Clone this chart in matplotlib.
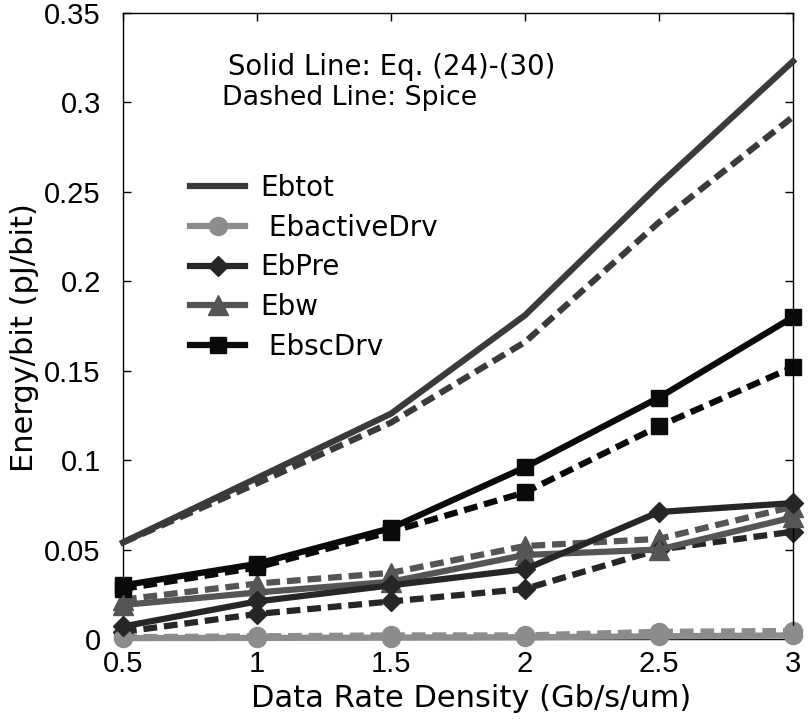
import matplotlib
matplotlib.use("Agg")
import matplotlib.pyplot as plt
from matplotlib.lines import Line2D

plt.rcParams['font.family'] = ['Liberation Sans', 'DejaVu Sans']
WIDE = ['DejaVu Sans']

rate = [0.5, 1.0, 1.5, 2.0, 2.5, 3.0]

# Model (Eq. 24-30) results
ebtot_eq = [0.054, 0.090, 0.126, 0.181, 0.254, 0.323]
ebactive_eq = [0.0005, 0.0006, 0.0008, 0.0010, 0.0015, 0.0020]
ebpre_eq = [0.007, 0.021, 0.030, 0.039, 0.071, 0.076]
ebw_eq = [0.019, 0.026, 0.032, 0.047, 0.050, 0.068]
ebsc_eq = [0.030, 0.042, 0.062, 0.096, 0.135, 0.180]

# Spice simulation results
ebtot_sp = [0.054, 0.087, 0.121, 0.166, 0.233, 0.292]
ebactive_sp = [0.0010, 0.0015, 0.0020, 0.0020, 0.0040, 0.0045]
ebpre_sp = [0.004, 0.014, 0.021, 0.028, 0.050, 0.060]
ebw_sp = [0.022, 0.031, 0.037, 0.052, 0.056, 0.074]
ebsc_sp = [0.028, 0.040, 0.060, 0.082, 0.119, 0.152]

labels = ["Ebtot", " EbactiveDrv", "EbPre", "Ebw", " EbscDrv"]
colors = ["#3a3a3a", "#8c8c8c", "#262626", "#555555", "#0a0a0a"]
markers = [None, "o", "D", "^", "s"]
msizes = [0, 13, 10, 15, 11]

eq_series = [ebtot_eq, ebactive_eq, ebpre_eq, ebw_eq, ebsc_eq]
sp_series = [ebtot_sp, ebactive_sp, ebpre_sp, ebw_sp, ebsc_sp]

W, H = 809, 719
fig = plt.figure(figsize=(W / 100, H / 100), dpi=100)
ax = fig.add_axes([123 / W, 1 - 639 / H, (793 - 123) / W, (639 - 13) / H])

LW = 4.5
draw_order = [1, 3, 2, 4, 0]
for i in draw_order:
    kw = dict(color=colors[i], lw=LW, marker=markers[i], ms=msizes[i],
              mfc=colors[i], mec=colors[i], clip_on=False)
    ax.plot(rate, sp_series[i], dashes=(2.2, 1.1), zorder=2, **kw)
    ax.plot(rate, eq_series[i], ls='-', zorder=3, **kw)

ax.set_xlim(0.5, 3)
ax.set_ylim(0, 0.35)
xt = [0.5, 1, 1.5, 2, 2.5, 3]
yt = [0, 0.05, 0.1, 0.15, 0.2, 0.25, 0.3, 0.35]
ax.set_xticks(xt)
ax.set_xticklabels(["0.5", "1", "1.5", "2", "2.5", "3"])
ax.set_yticks(yt)
ax.set_yticklabels(["0", "0.05", "0.1", "0.15", "0.2", "0.25", "0.3", "0.35"])
ax.tick_params(direction='in', length=6, width=1, top=True, right=True,
               labelsize=21)
ax.tick_params(axis='y', pad=16)
ax.tick_params(axis='x', pad=8)
for s in ax.spines.values():
    s.set_linewidth(1)

ax.set_xlabel("Data Rate Density (Gb/s/um)", fontsize=22, family=WIDE)
ax.set_ylabel("Energy/bit (pJ/bit)", fontsize=22, family=WIDE)
ax.xaxis.set_label_coords(0.52, -0.072)
ax.yaxis.set_label_coords(-0.125, 0.482)

fig.text(228 / W, 1 - 75 / H, "Solid Line: Eq. (24)-(30)", fontsize=19.8,
         va='baseline', ha='left', family=WIDE)
fig.text(222 / W, 1 - 105 / H, "Dashed Line: Spice", fontsize=19.3,
         va='baseline', ha='left', family=WIDE)

handles = []
for i in range(5):
    handles.append(Line2D([], [], color=colors[i], lw=LW, marker=markers[i],
                          ms=msizes[i], mfc=colors[i], mec=colors[i]))
fig.legend(handles, labels, loc='upper left',
           bbox_to_anchor=(190 / W, 1 - 174 / H), frameon=False,
           prop={'family': WIDE, 'size': 20}, handlelength=1.98,
           handletextpad=0.55, labelspacing=0.42, borderpad=0,
           borderaxespad=0)

fig.savefig("out.png", dpi=100)
